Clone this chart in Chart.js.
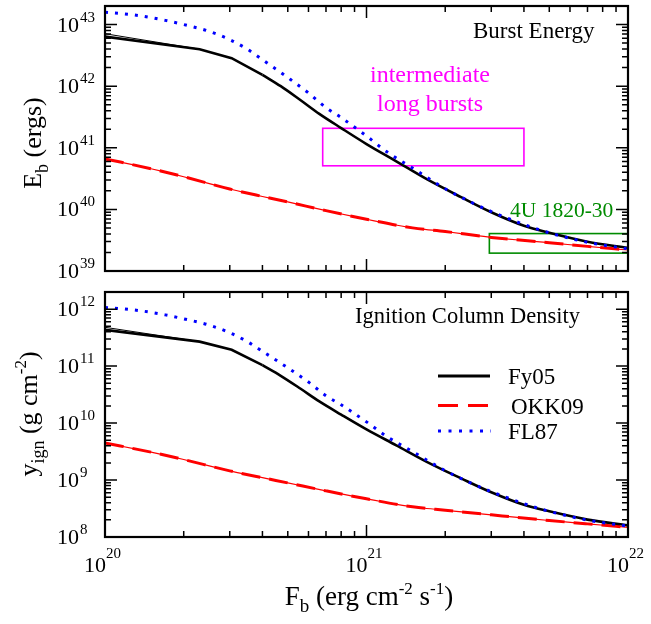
<!DOCTYPE html>
<html><head><meta charset="utf-8">
<script src="https://cdn.jsdelivr.net/npm/chart.js@4/dist/chart.umd.min.js"></script>
<style>
html,body{margin:0;padding:0;background:#fff;}
#wrap{position:relative;width:651px;height:624px;background:#fff;}
canvas{position:absolute;left:0;top:0;}
</style></head><body>
<div id="wrap"><canvas id="cTop" width="651" height="624"></canvas><canvas id="cBot" width="651" height="624"></canvas></div>
<script>
// ---- data ----
const fy05Flux    = [1.0e20, 2.3e20, 3.05e20, 4.0e20, 4.7e20, 5.6e20, 6.6e20, 8.0e20, 1.0e21, 1.3e21, 1.7e21, 2.3e21, 3.0e21, 4.0e21, 5.0e21, 7.0e21, 1.0e22];
const fy05Energy  = [6.38e42, 3.98e42, 2.85e42, 1.53e42, 1.0e42, 5.9e41, 3.55e41, 2.09e41, 1.15e41, 6.03e40, 3.09e40, 1.58e40, 9.0e39, 5.43e39, 4.17e39, 2.99e39, 2.37e39];
const fy05Column  = [4.32e11, 2.69e11, 1.93e11, 1.04e11, 6.76e10, 4.0e10, 2.4e10, 1.41e10, 7.76e9, 4.07e9, 2.09e9, 1.07e9, 6.1e8, 3.67e8, 2.82e8, 2.02e8, 1.6e8];
const fy05AltFlux   = [1.0e20, 2.3e20];
const fy05AltEnergy = [7.1e42, 3.98e42];
const fy05AltColumn = [4.8e11, 2.69e11];

const okk09Flux   = [1e20, 1.5e20, 2e20, 3e20, 4e20, 5e20, 7e20, 1e21, 1.5e21, 2e21, 3e21, 5e21, 7e21, 1e22];
const okk09Energy = [6.61e40, 4.57e40, 3.39e40, 2.14e40, 1.62e40, 1.32e40, 9.55e39, 6.92e39, 5.01e39, 4.37e39, 3.51e39, 2.88e39, 2.51e39, 2.19e39];
const okk09Column = [4.47e9, 3.09e9, 2.29e9, 1.45e9, 1.10e9, 8.91e8, 6.46e8, 4.68e8, 3.39e8, 2.95e8, 2.45e8, 1.95e8, 1.70e8, 1.48e8];

const fl87Flux    = [1.0e20, 1.3e20, 1.7e20, 2.0e20, 2.5e20, 3.0e20, 3.5e20, 4.0e20, 5.0e20, 6.0e20, 7.0e20, 8.0e20, 1.0e21, 1.2e21, 1.5e21, 2.0e21, 2.5e21, 3.0e21, 4.0e21, 5.0e21, 7.0e21, 1.0e22];
const fl87Energy  = [1.58e43, 1.43e43, 1.17e43, 1.0e43, 7.76e42, 5.69e42, 3.98e42, 2.69e42, 1.38e42, 7.76e41, 4.47e41, 3.09e41, 1.55e41, 8.51e40, 4.68e40, 2.16e40, 1.32e40, 9.22e39, 5.69e39, 4.17e39, 2.92e39, 2.29e39];
const fl87Column  = [1.07e12, 9.66e11, 7.94e11, 6.76e11, 5.25e11, 3.85e11, 2.69e11, 1.82e11, 9.33e10, 5.25e10, 3.02e10, 2.09e10, 1.05e10, 5.75e9, 3.16e9, 1.46e9, 8.91e8, 6.24e8, 3.85e8, 2.82e8, 1.98e8, 1.55e8];

const xTickExponents      = [20, 21, 22];
const energyTickExponents = [39, 40, 41, 42, 43];
const columnTickExponents = [8, 9, 10, 11, 12];
const energyRange = [1e39, 2e43];
const columnRange = [1e8, 2e12];
const fluxRange   = [1e20, 1e22];
const legendLabels = ['Fy05', 'OKK09', 'FL87'];
// boxes: [xMin, xMax, yMin, yMax]
const intermediateBox = [6.8e20, 4.0e21, 5.1e40, 2.07e41];
const source1820Box   = [2.95e21, 1.0e22, 1.95e39, 4.05e39];

// ---- helpers ----
const FONT = '"Liberation Serif","Times New Roman",serif';
const pts = (xs, ys) => xs.map((x, i) => ({x, y: ys[i]}));
function drawRich(ctx, x, y, runs, align) {
  let w = 0;
  runs.forEach(r => { ctx.font = r.s + 'px ' + FONT; r.w = ctx.measureText(r.t).width; w += r.w; });
  let cx = align === 'center' ? x - w / 2 : align === 'right' ? x - w : x;
  ctx.textAlign = 'left'; ctx.textBaseline = 'alphabetic';
  runs.forEach(r => { ctx.font = r.s + 'px ' + FONT; ctx.fillText(r.t, cx, y + (r.dy || 0)); cx += r.w; });
}
function makeDatasets(which) {
  const top = which === 'top';
  const fyY = top ? fy05Energy : fy05Column;
  const kink = 4; // piecewise-linear low-flux part, smooth beyond
  return [
    {label: legendLabels[2], data: pts(fl87Flux, top ? fl87Energy : fl87Column), borderColor: '#0000ff', borderWidth: 3, borderDash: [3, 7], borderCapStyle: 'butt', cubicInterpolationMode: 'monotone'},
    {label: legendLabels[0], data: pts(fy05Flux.slice(0, kink), fyY.slice(0, kink)), borderColor: '#000', borderWidth: 2.6, tension: 0},
    {label: legendLabels[0] + ' (cont.)', data: pts(fy05Flux.slice(kink - 1), fyY.slice(kink - 1)), borderColor: '#000', borderWidth: 2.6, cubicInterpolationMode: 'monotone'},
    {label: legendLabels[0] + ' alt', data: pts(fy05AltFlux, top ? fy05AltEnergy : fy05AltColumn), borderColor: '#000', borderWidth: 1, tension: 0},
    {label: legendLabels[1], data: pts(okk09Flux, top ? okk09Energy : okk09Column), borderColor: '#ff0000', borderWidth: 3, borderDash: [19, 9], cubicInterpolationMode: 'monotone'},
    {label: legendLabels[1] + ' alt', data: pts(okk09Flux, top ? okk09Energy : okk09Column), borderColor: '#ff0000', borderWidth: 1.2, borderDash: [19, 9], borderDashOffset: 14, cubicInterpolationMode: 'monotone'}
  ].map(d => Object.assign({pointRadius: 0, fill: false}, d));
}
function drawBox(ctx, x, y, b, color) {
  const l = x.getPixelForValue(b[0]), r = x.getPixelForValue(b[1]);
  const t = y.getPixelForValue(b[3]), bo = y.getPixelForValue(b[2]);
  ctx.save(); ctx.strokeStyle = color; ctx.lineWidth = 1.6; ctx.strokeRect(l, t, r - l, bo - t); ctx.restore();
}
function decorPlugin(cfg) {
  return {
    id: 'decor',
    beforeDatasetsDraw(chart) {
      const {ctx, scales: {x, y}} = chart;
      if (cfg.boxes) cfg.boxes.forEach(b => drawBox(ctx, x, y, b[0], b[1]));
    },
    afterDatasetsDraw(chart) {
      const {ctx, chartArea: a, scales: {x, y}} = chart;
      ctx.save();
      ctx.fillStyle = '#000'; ctx.strokeStyle = '#000';
      ctx.lineWidth = 1.5;
      const xe = xTickExponents, ye = cfg.yExps;
      for (let e = xe[0]; e <= xe[xe.length - 1]; e++) {
        for (let m = 1; m < 10; m++) {
          const v = m * Math.pow(10, e);
          if (v < fluxRange[0] || v > fluxRange[1]) continue;
          const px = x.getPixelForValue(v), len = m === 1 ? 12 : 6;
          ctx.beginPath(); ctx.moveTo(px, a.bottom); ctx.lineTo(px, a.bottom - len);
          ctx.moveTo(px, a.top); ctx.lineTo(px, a.top + len); ctx.stroke();
        }
      }
      for (let e = ye[0]; e <= ye[ye.length - 1]; e++) {
        for (let m = 1; m < 10; m++) {
          const v = m * Math.pow(10, e);
          if (v < cfg.yRange[0] || v >= cfg.yRange[1]) continue;
          const py = y.getPixelForValue(v), len = m === 1 ? 12 : 6;
          ctx.beginPath(); ctx.moveTo(a.left, py); ctx.lineTo(a.left + len, py);
          ctx.moveTo(a.right, py); ctx.lineTo(a.right - len, py); ctx.stroke();
        }
      }
      ctx.lineWidth = 2.2;
      ctx.strokeRect(a.left, a.top, a.right - a.left, a.bottom - a.top);
      ye.forEach(e => {
        const py = y.getPixelForValue(Math.pow(10, e));
        drawRich(ctx, a.left - 26, py + 7, [{t: '10', s: 22}], 'right');
        drawRich(ctx, a.left - 25, py - 3, [{t: String(e), s: 15}], 'left');
      });
      if (cfg.xLabels) {
        xe.forEach(e => {
          const px = x.getPixelForValue(Math.pow(10, e));
          drawRich(ctx, px + 1, 572, [{t: '10', s: 22}], 'right');
          drawRich(ctx, px + 1, 558, [{t: String(e), s: 15}], 'left');
        });
        drawRich(ctx, 369, 605, [{t: 'F', s: 27}, {t: 'b', s: 19, dy: 7}, {t: ' (erg cm', s: 27}, {t: '-2', s: 17, dy: -11}, {t: ' s', s: 27}, {t: '-1', s: 17, dy: -11}, {t: ')', s: 27}], 'center');
      }
      ctx.save(); ctx.translate(cfg.yTitlePos[0], cfg.yTitlePos[1]); ctx.rotate(-Math.PI / 2);
      drawRich(ctx, 0, 0, cfg.yTitle, 'center'); ctx.restore();
      (cfg.texts || []).forEach(t => { ctx.fillStyle = t.c; drawRich(ctx, t.x, t.y, [{t: t.t, s: t.s}], t.a); });
      if (cfg.legend) {
        ctx.lineCap = 'butt';
        ctx.strokeStyle = '#000'; ctx.lineWidth = 3; ctx.setLineDash([]);
        ctx.beginPath(); ctx.moveTo(438, 376); ctx.lineTo(490, 376); ctx.stroke();
        ctx.strokeStyle = '#ff0000'; ctx.setLineDash([20, 10]);
        ctx.beginPath(); ctx.moveTo(438, 405.5); ctx.lineTo(490, 405.5); ctx.stroke();
        ctx.strokeStyle = '#0000ff'; ctx.setLineDash([3, 7.5]);
        ctx.beginPath(); ctx.moveTo(438, 431); ctx.lineTo(491, 431); ctx.stroke();
        ctx.setLineDash([]);
        ctx.fillStyle = '#000';
        drawRich(ctx, 508, 384, [{t: legendLabels[0], s: 23}], 'left');
        drawRich(ctx, 511, 413.5, [{t: legendLabels[1], s: 23}], 'left');
        drawRich(ctx, 508, 439, [{t: legendLabels[2], s: 23}], 'left');
      }
      ctx.restore();
    }
  };
}
function makeChart(id, which, padding, yRange, plugin) {
  return new Chart(document.getElementById(id), {
    type: 'line',
    data: {datasets: makeDatasets(which)},
    options: {
      responsive: false, animation: false, devicePixelRatio: 1,
      layout: {padding},
      plugins: {legend: {display: false}, tooltip: {enabled: false}},
      scales: {
        x: {type: 'logarithmic', min: fluxRange[0], max: fluxRange[1], display: false},
        y: {type: 'logarithmic', min: yRange[0], max: yRange[1], display: false}
      }
    },
    plugins: [plugin]
  });
}
makeChart('cTop', 'top', {left: 105, top: 6, right: 23, bottom: 353}, energyRange, decorPlugin({
  yExps: energyTickExponents, yRange: energyRange,
  boxes: [[intermediateBox, '#ff00ff'], [source1820Box, 'rgb(0,139,0)']],
  yTitlePos: [41, 143],
  yTitle: [{t: 'E', s: 26}, {t: 'b', s: 18, dy: 7}, {t: ' (ergs)', s: 26}],
  texts: [
    {t: 'Burst Energy', x: 473, y: 38, s: 23, c: '#000', a: 'left'},
    {t: 'intermediate', x: 430, y: 81.5, s: 24, c: '#ff00ff', a: 'center'},
    {t: 'long bursts', x: 430, y: 111, s: 24, c: '#ff00ff', a: 'center'},
    {t: '4U 1820-30', x: 510, y: 217, s: 21.5, c: 'rgb(0,139,0)', a: 'left'}
  ]
}));
makeChart('cBot', 'bot', {left: 105, top: 292, right: 23, bottom: 87}, columnRange, decorPlugin({
  yExps: columnTickExponents, yRange: columnRange, xLabels: true, legend: true,
  yTitlePos: [37, 414],
  yTitle: [{t: 'y', s: 26}, {t: 'ign', s: 18, dy: 7}, {t: ' (g cm', s: 26}, {t: '-2', s: 17, dy: -11}, {t: ')', s: 26}],
  texts: [
    {t: 'Ignition Column Density', x: 355, y: 323, s: 22.5, c: '#000', a: 'left'}
  ]
}));
</script>
</body></html>
